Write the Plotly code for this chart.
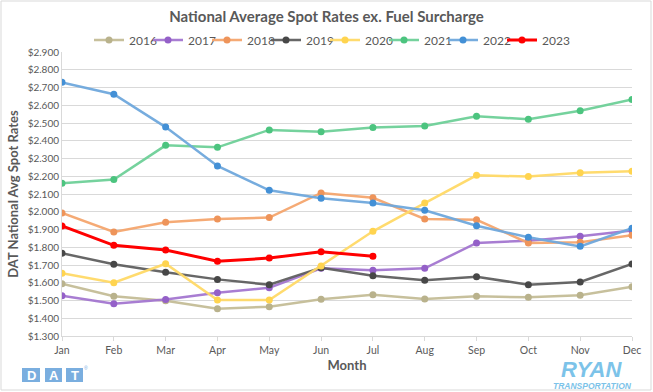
import plotly.graph_objects as go

months = ["Jan", "Feb", "Mar", "Apr", "May", "Jun", "Jul", "Aug", "Sep", "Oct", "Nov", "Dec"]
y2016 = [1.595, 1.524, 1.499, 1.454, 1.465, 1.507, 1.533, 1.508, 1.524, 1.518, 1.529, 1.578]
y2017 = [1.527, 1.482, 1.505, 1.544, 1.572, 1.681, 1.670, 1.681, 1.824, 1.837, 1.862, 1.895]
y2018 = [1.993, 1.886, 1.941, 1.959, 1.967, 2.106, 2.079, 1.959, 1.955, 1.824, 1.828, 1.867]
y2019 = [1.766, 1.704, 1.659, 1.619, 1.589, 1.685, 1.640, 1.614, 1.634, 1.589, 1.604, 1.706]
y2020 = [1.653, 1.600, 1.707, 1.503, 1.503, 1.694, 1.890, 2.049, 2.205, 2.198, 2.220, 2.228]
y2021 = [2.160, 2.181, 2.374, 2.363, 2.461, 2.451, 2.474, 2.483, 2.538, 2.521, 2.569, 2.633]
y2022 = [2.729, 2.662, 2.477, 2.258, 2.121, 2.076, 2.049, 2.008, 1.921, 1.856, 1.805, 1.907]
y2023 = [1.920, 1.811, 1.785, 1.721, 1.739, 1.775, 1.749]

series = [
    ("2016", y2016, "rgba(196,189,151,0.95)", "#B9B28C", 2.5),
    ("2017", y2017, "rgba(163,118,208,0.95)", "#9460C8", 2.5),
    ("2018", y2018, "rgba(244,165,110,0.95)", "#EE945A", 2.5),
    ("2019", y2019, "rgba(95,95,95,0.95)", "#474747", 2.5),
    ("2020", y2020, "rgba(255,217,102,0.95)", "#FFD44F", 2.5),
    ("2021", y2021, "rgba(110,208,152,0.95)", "#4CC47F", 2.5),
    ("2022", y2022, "rgba(111,168,220,0.95)", "#4390D6", 2.5),
    ("2023", y2023, "#FF0000", "#FF0000", 3),
]

fig = go.Figure()
for name, vals, lc, mc, w in series:
    fig.add_trace(go.Scatter(
        x=months[:len(vals)], y=vals, name=name, mode="lines+markers",
        line=dict(color=lc, width=w),
        marker=dict(color=mc, size=7),
    ))
# blank spacer legend entry so the last label is not clipped
fig.add_trace(go.Scatter(x=[None], y=[None], name=" ", mode="lines",
                         line=dict(color="rgba(0,0,0,0)", width=0), hoverinfo="skip"))

FONT = "Lato"
GRAY = "#595959"

L, R, T, B = 62, 632, 52, 336
def px(x):
    return (x - L) / (R - L)
def py(y):
    return (B - y) / (B - T)

shapes = [
    dict(type="rect", xref="paper", yref="paper", x0=px(1), x1=px(651), y0=py(1), y1=py(390),
         line=dict(color="#D9D9D9", width=1), fillcolor="rgba(0,0,0,0)", layer="below"),
]
annotations = []
dat_boxes = [(22, 40, "D"), (45, 62, "A"), (66, 83, "T")]
for x0, x1, letter in dat_boxes:
    shapes.append(dict(type="rect", xref="paper", yref="paper", x0=px(x0), x1=px(x1),
                       y0=py(382), y1=py(368), line=dict(width=0), fillcolor="#7AAEDF"))
    annotations.append(dict(xref="paper", yref="paper", x=px((x0 + x1) / 2), y=py(375),
                            text="<b>%s</b>" % letter, showarrow=False,
                            font=dict(family="Liberation Sans", size=13, color="white"),
                            xanchor="center", yanchor="middle"))
annotations.append(dict(xref="paper", yref="paper", x=px(85.5), y=py(368), text="®",
                        showarrow=False, font=dict(family="Liberation Sans", size=5, color="#7AAEDF"),
                        xanchor="center", yanchor="middle"))
annotations.append(dict(xref="paper", yref="paper", x=px(591), y=py(369), text="<b><i>RYAN</i></b>",
                        showarrow=False, font=dict(family="Liberation Sans", size=22, color="#7CC3E9"),
                        xanchor="center", yanchor="middle"))
annotations.append(dict(xref="paper", yref="paper", x=px(592), y=py(385.5), text="<b><i>TRANSPORTATION</i></b>",
                        showarrow=False, font=dict(family="Liberation Sans", size=8.5, color="#7CC3E9"),
                        xanchor="center", yanchor="middle"))

fig.update_layout(
    width=653, height=392,
    margin=dict(l=L, r=653 - R, t=T, b=392 - B, autoexpand=False),
    paper_bgcolor="white", plot_bgcolor="white",
    font=dict(family=FONT, color=GRAY, size=11),
    title=dict(text="<b>National Average Spot Rates ex. Fuel Surcharge</b>", x=0.5, xanchor="center",
               y=1 - 17 / 392, yanchor="middle", font=dict(size=15, color=GRAY, family=FONT)),
    legend=dict(orientation="h", xref="container", yref="container", x=89 / 653, xanchor="left",
                y=1 - 40 / 392, yanchor="middle", entrywidth=14, entrywidthmode="pixels",
                font=dict(size=12, color=GRAY, family=FONT), itemwidth=30,
                bgcolor="rgba(0,0,0,0)"),
    xaxis=dict(range=[0, 11], showgrid=False, showline=True, linecolor="#D9D9D9", linewidth=1,
               ticks="outside", ticklen=4, tickcolor="#D9D9D9", tickfont=dict(size=10.5, color=GRAY),
               title=dict(text="<b>Month</b>", font=dict(size=13, color=GRAY), standoff=6),
               zeroline=False, fixedrange=True, automargin=False),
    yaxis=dict(range=[1.3, 2.9], dtick=0.1, tick0=1.3, tickformat="$.3f", showgrid=True,
               gridcolor="#D9D9D9", gridwidth=1, showline=True, linecolor="#D9D9D9",
               tickfont=dict(size=10, color=GRAY), zeroline=False, automargin=False,
               title=dict(text="<b>DAT National Avg Spot Rates</b>", font=dict(size=13, color=GRAY), standoff=6)),
    shapes=shapes, annotations=annotations,
    showlegend=True,
)

fig.write_html("out.html", config={"displayModeBar": False},
               post_script="document.body.style.margin='0px';")
